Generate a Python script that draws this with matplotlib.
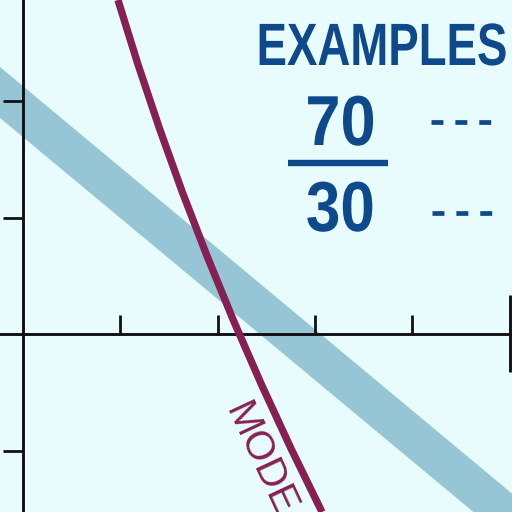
import matplotlib
matplotlib.use("Agg")
import matplotlib.pyplot as plt
from matplotlib.patheffects import AbstractPathEffect
from matplotlib.transforms import Affine2D

# ---- data ----
mode_x = [0.976, 1.180, 1.401, 1.637, 1.891, 2.161, 2.448, 2.752, 3.073]
mode_y = [2.867, 2.318, 1.768, 1.219, 0.670, 0.120, -0.429, -0.979, -1.528]

band_x = [-0.30, 5.10]
band_upper = [2.336, -1.421]
band_lower = [1.899, -1.855]

x_ticks = [1, 2, 3, 4]
y_ticks = [-1, 1, 2]
end_line_x = 5.0
end_line_y = [-0.33, 0.335]

title_text = "EXAMPLES"
example_labels = ["70", "30"]
curve_label = "MODE"

# ---- style ----
BG = "#e8fbfd"
BAND = "#96c6d5"
MAROON = "#862052"
BLUE = "#0e4a8b"
BLACK = "#111111"
SANS = ["Liberation Sans", "DejaVu Sans"]

plt.rcParams["lines.scale_dashes"] = False


class Squeeze(AbstractPathEffect):
    """Draw text glyphs narrowed horizontally to a target width (pixels)."""

    def __init__(self, target_px, pivot="center"):
        super().__init__()
        self.target = target_px
        self.pivot = pivot

    def draw_path(self, renderer, gc, tpath, affine, rgbFace=None):
        disp = tpath.get_extents(affine)
        loc = tpath.get_extents()
        sx = self.target / disp.width if disp.width > 0 else 1.0
        if self.pivot == "right":
            cx = loc.x1
        elif self.pivot == "left":
            cx = loc.x0
        else:
            cx = 0.5 * (loc.x0 + loc.x1)
        new = Affine2D().translate(-cx, 0).scale(sx, 1).translate(cx, 0) + affine
        renderer.draw_path(gc, tpath, new, rgbFace)


fig = plt.figure(figsize=(5.12, 5.12), dpi=100, facecolor=BG)
ax = fig.add_axes([0, 0, 1, 1], facecolor=BG)
ax.set_xlim(-23 / 97.3, 489 / 97.3)
ax.set_ylim(-178 / 116.5, 334 / 116.5)

# axes through the origin
for s in ("top", "right"):
    ax.spines[s].set_visible(False)
for s in ("left", "bottom"):
    ax.spines[s].set_position(("data", 0))
    ax.spines[s].set_linewidth(2.1)
    ax.spines[s].set_color(BLACK)
    ax.spines[s].set_zorder(2.5)
ax.set_xticks(x_ticks)
ax.set_yticks(y_ticks)
ax.set_xticklabels([])
ax.set_yticklabels([])
ax.tick_params(axis="x", direction="in", length=13.5, width=2.0, color=BLACK)
ax.tick_params(axis="y", direction="out", length=14.5, width=2.0, color=BLACK)
ax.plot([end_line_x, end_line_x], end_line_y, color=BLACK, lw=2.1, zorder=2.5,
        solid_capstyle="butt")

# band and curve
ax.fill_between(band_x, band_lower, band_upper, color=BAND, lw=0, zorder=1)
ax.plot(mode_x, mode_y, color=MAROON, lw=5.3, zorder=3, solid_capstyle="butt")

# curve label
ax.text(2.076, -0.652, curve_label, rotation=-65, rotation_mode="anchor",
        ha="left", va="baseline", fontsize=29, color=MAROON, family=SANS)

# examples box
ax.text(4.985, 2.309, title_text, ha="right", va="baseline", fontsize=43,
        fontweight="bold", color=BLUE, family=SANS, zorder=4,
        path_effects=[Squeeze(246, pivot="right")])
ax.text(3.263, 1.622, example_labels[0], ha="center", va="baseline", fontsize=51,
        fontweight="bold", color=BLUE, family=SANS,
        path_effects=[Squeeze(65)])
ax.text(3.263, 0.884, example_labels[1], ha="center", va="baseline", fontsize=51,
        fontweight="bold", color=BLUE, family=SANS,
        path_effects=[Squeeze(65)])
ax.plot([2.724, 3.751], [1.468, 1.468], color=BLUE, lw=4.6, solid_capstyle="butt")
ax.plot([4.193, 4.810], [1.820, 1.820], color=BLUE, lw=3.4, dashes=(8.6, 8.6),
        solid_capstyle="butt", dash_capstyle="butt")
ax.plot([4.203, 4.820], [1.039, 1.039], color=BLUE, lw=3.4, dashes=(8.6, 8.6),
        solid_capstyle="butt", dash_capstyle="butt")

fig.savefig("out.png", dpi=100, facecolor=BG)
